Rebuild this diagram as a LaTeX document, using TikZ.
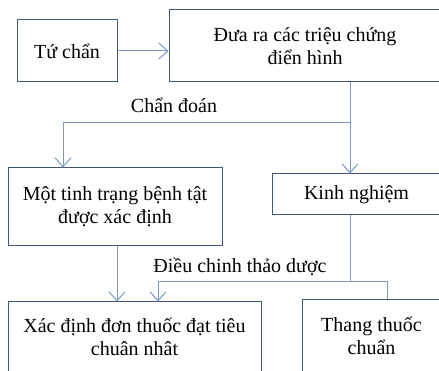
\documentclass[tikz,border=0pt]{standalone}
\usepackage{fontspec}
\setmainfont{Liberation Serif}
\usetikzlibrary{arrows.meta,positioning}
\definecolor{boxline}{RGB}{64,87,120}
\definecolor{linkline}{RGB}{122,152,200}
\tikzset{%
  step box/.style={%
    draw=boxline,
    line width=1pt,
    align=center,
    inner sep=0pt,
    font=\fontsize{20}{23}\selectfont
  }
}
\tikzset{%
  step label/.style={%
    inner sep=0pt,
    font=\fontsize{20}{23}\selectfont
  }
}
\tikzset{%
  link/.style={%
    draw=linkline,
    line width=1pt
  },
  link directed/.style={%
    link,
    -{Straight Barb[length=9pt,width=16pt]}
  }
}
\begin{document}
\begin{tikzpicture}[x=1pt,y=-1pt]
  \fill [white] (0,0) rectangle (439,371);
  \useasboundingbox (0,0) rectangle (439,371);
  \clip (0,0) rectangle (439,371);
  \node [step box, minimum width=100pt, minimum height=62pt] (tu) at (67,51) {Tứ chẩn};
  \node [step box, minimum width=272pt, minimum height=72pt] (dua) at (305,46) {Đưa ra các triệu chứng\\điển hình};
  \node [step box, minimum width=214pt, minimum height=78pt] (mot) at (115,207) {Một tinh trạng bệnh tật\\được xác định};
  \node [step box, minimum width=169pt, minimum height=41pt] (kinh) at (356.5,194.5) {Kinh nghiệm};
  \node [step box, minimum width=253pt, minimum height=70pt] (xac) at (134.5,337) {Xác định đơn thuốc đạt tiêu\\chuân nhât};
  \node [step box, minimum width=139pt, minimum height=72pt] (thang) at (371.5,336) {Thang thuốc\\chuẩn};
  \node [step label] (chan) at (174,105) {Chẩn đoán};
  \node [step label] (dieu) at (240,267) {Điều chinh thảo dược};
  \coordinate (split) at (350,123);
  \coordinate (left) at (63,123);
  \coordinate (drop) at (117,282);
  \coordinate (join) at (350,282);
  \coordinate (hook) at (158,282);
  \coordinate (right) at (387,282);
  \draw [link directed] (tu.east) -- (tu.east -| dua.west);
  \draw [link directed] (split |- dua.south) -- (split |- kinh.north);
  \draw [link directed] (split) -- (left) -- (left |- mot.north);
  \draw [link directed] (drop |- mot.south) -- (drop |- xac.north);
  \draw [link] (join |- kinh.south) -- (join);
  \draw [link directed] (right |- thang.north) -- (right) -- (hook) -- (hook |- xac.north);
\end{tikzpicture}
\end{document}
